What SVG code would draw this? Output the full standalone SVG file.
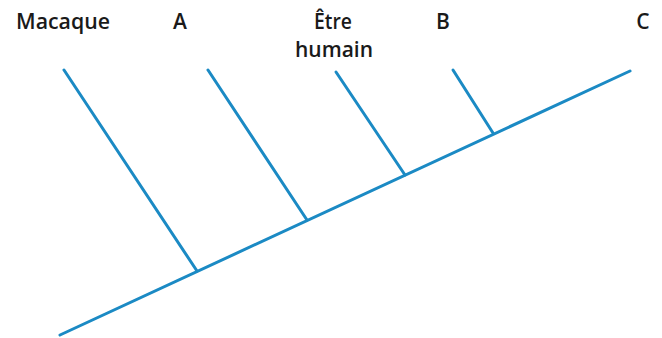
<svg xmlns="http://www.w3.org/2000/svg" width="662" height="338" viewBox="0 0 662 338">
<style>
.l{stroke:#1b8ac4;stroke-width:3;stroke-linecap:round;fill:none}
.t{font-family:"Open Sans","DejaVu Sans",sans-serif;font-size:21px;font-weight:600;fill:#1a1a1a}
</style>
<rect width="662" height="338" fill="#fff"/>
<g id="connectors">
<line class="l" x1="60" y1="335" x2="630" y2="71"/>
<line class="l" x1="64" y1="70" x2="197" y2="271"/>
<line class="l" x1="208" y1="70" x2="307" y2="220"/>
<line class="l" x1="336" y1="72" x2="405" y2="175"/>
<line class="l" x1="453" y1="70" x2="493" y2="133"/>
</g>
<g id="macaque"><text class="t" x="63" y="29" text-anchor="middle" textLength="94" lengthAdjust="spacingAndGlyphs">Macaque</text></g>
<g id="a"><text class="t" x="180" y="29" text-anchor="middle">A</text></g>
<g id="etre-humain"><text class="t" x="333" y="29" text-anchor="middle" textLength="38" lengthAdjust="spacingAndGlyphs">Être</text><text class="t" x="334" y="57" text-anchor="middle" textLength="78" lengthAdjust="spacingAndGlyphs">humain</text></g>
<g id="b"><text class="t" x="443" y="29" text-anchor="middle">B</text></g>
<g id="c"><text class="t" x="643" y="29" text-anchor="middle">C</text></g>
</svg>
